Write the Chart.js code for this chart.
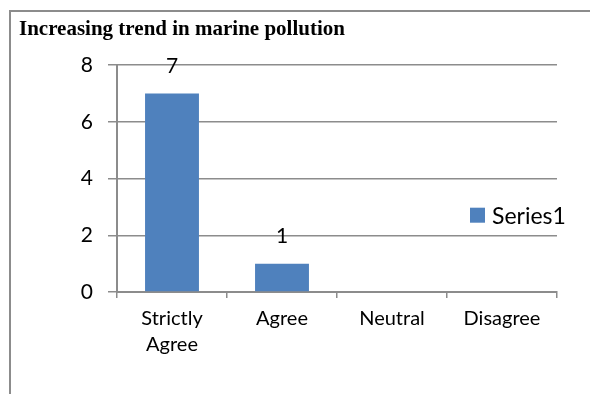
<!DOCTYPE html>
<html>
<head>
<meta charset="utf-8">
<script src="https://cdn.jsdelivr.net/npm/chart.js@4/dist/chart.umd.min.js"></script>
<style>
  html, body { margin: 0; padding: 0; background: #fff; }
  #wrap { position: relative; width: 590px; height: 394px; }
</style>
</head>
<body>
<div id="wrap"><canvas id="c" width="590" height="394"></canvas></div>
<script>
// Survey responses: "Increasing trend in marine pollution"
const categories = [['Strictly', 'Agree'], 'Agree', 'Neutral', 'Disagree'];
const series1 = [7, 1, null, null];
const seriesName = 'Series1';
const yTicks = { min: 0, max: 8, step: 2 };

const barColor = '#4F81BD';
const lineColor = '#8c8c8c';

// Outer frame: left and top border lines
const framePlugin = {
  id: 'frame',
  beforeDraw(chart) {
    const ctx = chart.ctx;
    ctx.save();
    ctx.fillStyle = '#fff';
    ctx.fillRect(0, 0, chart.width, chart.height);
    ctx.strokeStyle = '#8c8c8c';
    ctx.lineWidth = 2;
    ctx.beginPath();
    ctx.moveTo(10, chart.height);
    ctx.lineTo(10, 11);
    ctx.lineTo(chart.width, 11);
    ctx.stroke();
    ctx.restore();
  }
};

// Value labels above each bar
const valueLabels = {
  id: 'valueLabels',
  afterDatasetsDraw(chart) {
    const ctx = chart.ctx;
    ctx.save();
    ctx.font = '21px Lato';
    ctx.fillStyle = '#000';
    ctx.textAlign = 'center';
    ctx.textBaseline = 'middle';
    chart.data.datasets.forEach((ds, di) => {
      chart.getDatasetMeta(di).data.forEach((bar, i) => {
        const v = ds.data[i];
        if (v === null || v === undefined) return;
        ctx.fillText(String(v), bar.x, bar.y - 27);
      });
    });
    ctx.restore();
  }
};

// Legend drawn inside the plot on the right side
const sideLegend = {
  id: 'sideLegend',
  afterDraw(chart) {
    const ctx = chart.ctx;
    const area = chart.chartArea;
    const ds = chart.data.datasets[0];
    const x = area.right - 87;
    const yc = area.top + 150;
    ctx.save();
    ctx.fillStyle = ds.backgroundColor;
    ctx.fillRect(x, yc - 7.5, 15, 15);
    ctx.fillStyle = '#000';
    ctx.font = '23px Lato';
    ctx.textAlign = 'left';
    ctx.textBaseline = 'middle';
    ctx.fillText(ds.label, x + 22, yc + 1);
    ctx.restore();
  }
};

Chart.defaults.font.family = 'Lato';
Chart.defaults.color = '#000';

new Chart(document.getElementById('c'), {
  type: 'bar',
  data: {
    labels: categories,
    datasets: [{
      label: seriesName,
      data: series1,
      backgroundColor: barColor,
      borderWidth: 0,
      categoryPercentage: 1,
      barPercentage: 0.49
    }]
  },
  options: {
    responsive: false,
    animation: false,
    layout: { padding: { left: 19, right: 33, top: 0, bottom: 28 } },
    plugins: {
      legend: { display: false },
      tooltip: { enabled: false },
      title: {
        display: true,
        text: 'Increasing trend in marine pollution',
        align: 'start',
        color: '#000',
        font: { family: 'Liberation Serif', size: 21, weight: 'bold' },
        padding: { top: 17, bottom: 23 }
      }
    },
    scales: {
      x: {
        grid: {
          display: true,
          drawOnChartArea: false,
          drawTicks: true,
          tickLength: 6,
          color: lineColor,
          lineWidth: 1.5,
          offset: true
        },
        border: { color: lineColor, width: 2 },
        ticks: {
          font: { size: 20, lineHeight: 1.3 },
          padding: 8,
          maxRotation: 0,
          autoSkip: false
        }
      },
      y: {
        min: yTicks.min,
        max: yTicks.max,
        ticks: { stepSize: yTicks.step, font: { size: 21 }, padding: 15 },
        grid: { color: lineColor, lineWidth: 1.5, tickLength: 9 },
        border: { color: lineColor, width: 2 },
        afterFit(scale) { scale.width = 98; }
      }
    }
  },
  plugins: [framePlugin, valueLabels, sideLegend]
});
</script>
</body>
</html>
